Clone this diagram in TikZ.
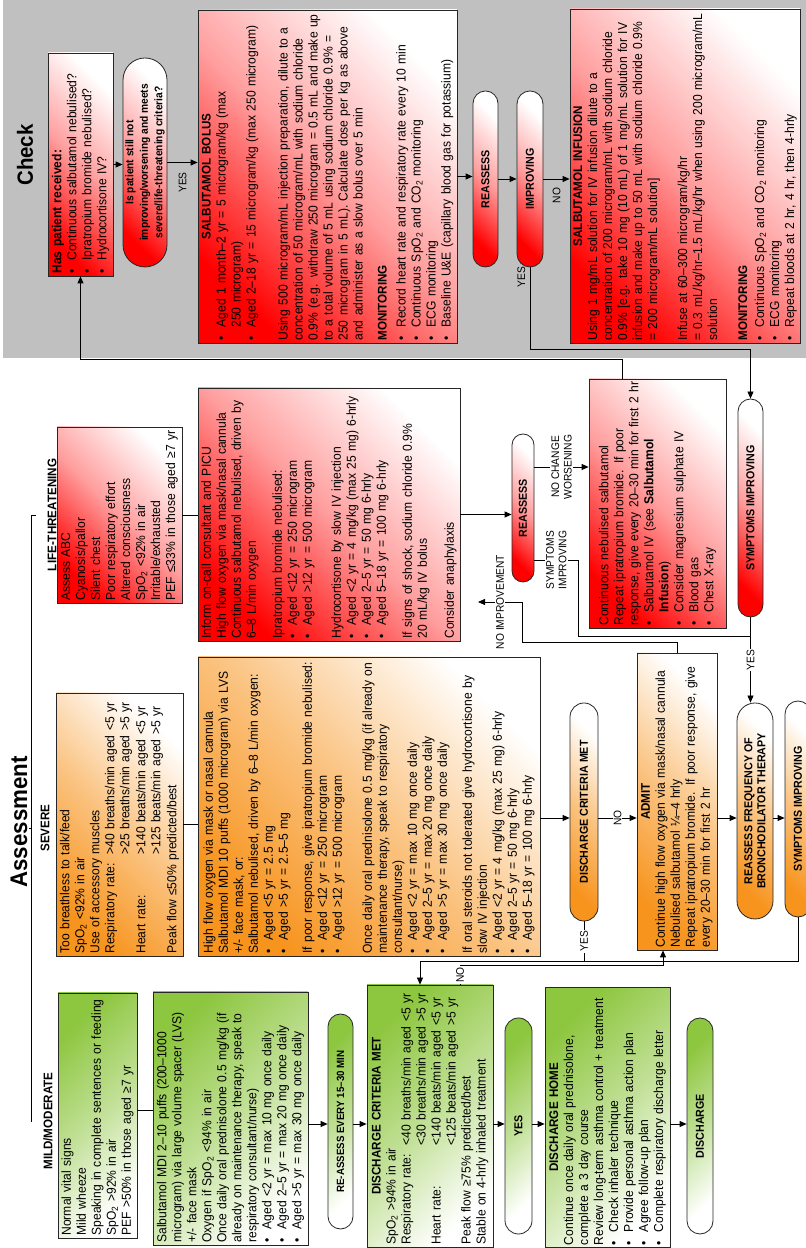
\documentclass[tikz,border=0pt]{standalone}
\usepackage{fontspec}
\setmainfont{Liberation Sans}[FakeStretch=0.93]
\usetikzlibrary{arrows.meta,shapes.misc}

\definecolor{panelgray}{RGB}{192,192,192}
\definecolor{alertred}{RGB}{255,0,0}
\definecolor{warnorange}{RGB}{247,148,30}
\definecolor{okgreen}{RGB}{141,198,63}

\newcommand{\bodyfnt}{\fontsize{13}{15}\selectfont}
\newcommand{\headfnt}{\fontsize{12.5}{15}\selectfont\bfseries}
\newcommand{\ovalfnt}{\fontsize{11.5}{13}\selectfont\bfseries}
\newcommand{\lblfnt}{\fontsize{11}{12.5}\selectfont}
\newcommand{\bu}{\makebox[13pt][l]{\textbullet}}
\newcommand{\cont}{\hspace*{13pt}}
\newcommand{\tb}[1]{\makebox[99pt][l]{#1}}
\newcommand{\sub}[1]{\textsubscript{#1}}
\newcommand{\boxtitle}[1]{\makebox[\hsize][c]{\headfnt #1}}

% the shading is laid on the page after rotation, so its angle is given in page terms
\tikzset{
  redfill/.style={top color=alertred, bottom color=white, middle color=alertred!38, shading angle=135},
  orangefill/.style={top color=warnorange, bottom color=white, middle color=warnorange!55, shading angle=135},
  greenfill/.style={top color=okgreen, bottom color=white, middle color=okgreen!55, shading angle=45},
  box/.style={draw=black!85, line width=0.8pt, rectangle, inner xsep=2.5pt,
    inner ysep=1pt, align=left, font=\bodyfnt},
  redbox/.style={box, redfill},
  orangebox/.style={box, orangefill},
  greenbox/.style={box, greenfill},
  ov/.style={rounded rectangle, draw=black!85, line width=0.8pt, align=center,
    font=\ovalfnt, inner sep=1pt},
  redov/.style={ov, redfill},
  orangeov/.style={ov, orangefill},
  greenov/.style={ov, greenfill},
  conn/.style={line width=0.8pt, black},
  arr/.style={conn, -{Triangle[length=7pt,width=6pt]}},
  lbl/.style={fill=white, inner sep=1pt, font=\lblfnt, align=center},
  grade/.style={font=\fontsize{12.5}{15}\selectfont\bfseries},
}

\begin{document}
\begin{tikzpicture}[x=1pt,y=1pt]
\begin{scope}[rotate=90, transform shape]
\useasboundingbox (0,0) rectangle (1248,-806);
\fill[white] (0,0) rectangle (1248,-806);
% grey panel of the check pathway
\fill[panelgray] (890,-3) rectangle (1248,-806);

% ---------------- titles ----------------
\node[font=\fontsize{22}{24}\selectfont\bfseries] (checkttl) at (1093,-25) {Check};
\node[font=\fontsize{24}{26}\selectfont\bfseries] (assessttl) at (426,-19) {Assessment};

% ---------------- check pathway ----------------
\node[redbox, text width=218pt, minimum height=65pt] (hasrec) at (1083.5,-80.5) {%
\textbf{Has patient received:}\\
\bu Continuous salbutamol nebulised?\\
\bu Ipratropium bromide nebulised?\\
\bu Hydrocortisone IV?};

\node[redov, minimum width=211pt, minimum height=44pt, font=\fontsize{11}{14.5}\selectfont\bfseries] (isoval) at (1085.5,-145) {%
Is patient still not\\improving/worsening and meets\\severe/life-threatening criteria?};

\node[redbox, text width=328pt, minimum height=259pt] (bolus) at (1071.5,-327.5) {%
\boxtitle{SALBUTAMOL BOLUS}\\
\bu Aged 1 month–2 yr = 5 microgram/kg (max\\
\cont 250 microgram)\\
\bu Aged 2–18 yr = 15 microgram/kg (max 250 microgram)\\[17pt]
Using 500 microgram/mL injection preparation, dilute to a\\
concentration of 50 microgram/mL with sodium chloride\\
0.9\% (e.g. withdraw 250 microgram = 0.5 mL and make up\\
to a total volume of 5 mL using sodium chloride 0.9\% =\\
250 microgram in 5 mL). Calculate dose per kg as above\\
and administer as a slow bolus over 5 min\\[9pt]
{\headfnt MONITORING}\\[4pt]
\bu Record heart rate and respiratory rate every 10 min\\
\bu Continuous SpO\sub{2} and CO\sub{2} monitoring\\
\bu ECG monitoring\\
\bu Baseline U\&E (capillary blood gas for potassium)};

\node[redov, minimum width=178pt, minimum height=25pt] (reass1) at (1069,-485.5) {REASSESS};
\node[redov, minimum width=178pt, minimum height=26pt] (improv) at (1069,-530) {IMPROVING};

\node[redbox, text width=329pt, minimum height=230pt] (infus) at (1072,-685) {%
\boxtitle{SALBUTAMOL INFUSION}\\
Using 1 mg/mL solution for IV infusion dilute to a\\
concentration of 200 microgram/mL with sodium chloride\\
0.9\% [e.g. take 10 mg (10 mL) of 1 mg/mL solution for IV\\
infusion and make up to 50 mL with sodium chloride 0.9\%\\
= 200 microgram/mL solution]\\[15pt]
Infuse at 60–300 microgram/kg/hr\\
= 0.3 mL/kg/hr–1.5 mL/kg/hr when using 200 microgram/mL\\
solution\\[15pt]
{\headfnt MONITORING}\\[2pt]
\bu Continuous SpO\sub{2} and CO\sub{2} monitoring\\
\bu ECG monitoring\\
\bu Repeat bloods at 2 hr, 4 hr, then 4-hrly};

% ---------------- life-threatening column ----------------
\node[grade] (lifelbl) at (733,-52) {LIFE-THREATENING};
\node[redbox, text width=171pt, minimum height=125pt] (life) at (733,-119.5) {%
Assess ABC\\
Cyanosis/pallor\\
Silent chest\\
Poor respiratory effort\\
Altered consciousness\\
SpO\sub{2} <92\% in air\\
Irritable/exhausted\\
PEF ≤33\% in those aged ≥7 yr};

\node[redbox, text width=248pt, minimum height=262pt] (inform) at (733.5,-329) {%
Inform on-call consultant and PICU\\
High flow oxygen via mask/nasal cannula\\
Continuous salbutamol nebulised, driven by\\
6–8 L/min oxygen\\[11pt]
Ipratropium bromide nebulised:\\
\bu Aged <12 yr = 250 microgram\\
\bu Aged >12 yr = 500 microgram\\[14pt]
Hydrocortisone by slow IV injection\\
\bu Aged <2 yr = 4 mg/kg (max 25 mg) 6-hrly\\
\bu Aged 2–5 yr = 50 mg 6-hrly\\
\bu Aged 5–18 yr = 100 mg 6-hrly\\[11pt]
If signs of shock, sodium chloride 0.9\%\\
20 mL/kg IV bolus\\[12pt]
Consider anaphylaxis};

\node[redov, minimum width=150pt, minimum height=22pt] (reass2) at (740,-523) {REASSESS};

\node[redbox, text width=244pt, minimum height=137pt] (contin) at (744.5,-657.5) {%
Continuous nebulised salbutamol\\
Repeat ipratropium bromide. If poor\\
response, give every 20–30 min for first 2 hr\\
\bu Salbutamol IV (see \textbf{Salbutamol}\\
\cont\textbf{Infusion})\\
\bu Consider magnesium sulphate IV\\
\bu Blood gas\\
\bu Chest X-ray};

\node[redov, minimum width=220pt, minimum height=25pt] (sympR) at (740,-750.5) {SYMPTOMS IMPROVING};

% ---------------- severe column ----------------
\node[grade] (sevlbl) at (420,-45) {SEVERE};
\node[orangebox, text width=258pt, minimum height=127pt] (severe) at (423.5,-119.5) {%
Too breathless to talk/feed\\
SpO\sub{2} <92\% in air\\
Use of accessory muscles\\
\tb{Respiratory rate:}>40 breaths/min aged <5 yr\\
\tb{}>25 breaths/min aged >5 yr\\[1pt]
\tb{Heart rate:}>140 beats/min aged <5 yr\\
\tb{}>125 beats/min aged >5 yr\\[1pt]
Peak flow ≤50\% predicted/best};

\node[orangebox, text width=294pt, minimum height=342pt] (highflow) at (441.5,-369) {%
High flow oxygen via mask or nasal cannula\\
Salbutamol MDI 10 puffs (1000 microgram) via LVS\\
+/- face mask, or:\\
Salbutamol nebulised, driven by 6–8 L/min oxygen:\\
\bu Aged <5 yr = 2.5 mg\\
\bu Aged >5 yr = 2.5–5 mg\\[9pt]
If poor response, give ipratropium bromide nebulised:\\
\bu Aged <12 yr = 250 microgram\\
\bu Aged >12 yr = 500 microgram\\[15pt]
Once daily oral prednisolone 0.5 mg/kg (if already on\\
maintenance therapy, speak to respiratory\\
consultant/nurse)\\
\bu Aged <2 yr = max 10 mg once daily\\
\bu Aged 2–5 yr = max 20 mg once daily\\
\bu Aged >5 yr = max 30 mg once daily\\[10pt]
If oral steroids not tolerated give hydrocortisone by\\
slow IV injection\\
\bu Aged <2 yr = 4 mg/kg (max 25 mg) 6-hrly\\
\bu Aged 2–5 yr = 50 mg 6-hrly\\
\bu Aged 5–18 yr = 100 mg 6-hrly};

\node[orangeov, minimum width=220pt, minimum height=28pt] (dcm) at (436,-584) {DISCHARGE CRITERIA MET};

\node[orangebox, text width=292pt, minimum height=80pt] (admit) at (446.5,-677) {%
\boxtitle{ADMIT}\\
Continue high flow oxygen via mask/nasal cannula\\
Nebulised salbutamol ¼–4 hrly\\
Repeat ipratropium bromide. If poor response, give\\
every 20–30 min for first 2 hr};

\node[orangeov, minimum width=218pt, minimum height=36pt, font=\fontsize{11.5}{13}\selectfont\bfseries] (reassfreq) at (437,-755) {REASSESS FREQUENCY OF\\BRONCHODILATOR THERAPY};
\node[orangeov, minimum width=218pt, minimum height=26pt] (sympO) at (439,-798) {SYMPTOMS IMPROVING};

% ---------------- mild/moderate column ----------------
\node[grade] (mildlbl) at (127,-48) {MILD/MODERATE};
\node[greenbox, text width=240pt, minimum height=79pt] (mild) at (132.5,-97.5) {%
Normal vital signs\\
Mild wheeze\\
Speaking in complete sentences or feeding\\
SpO\sub{2} >92\% in air\\
PEF >50\% in those aged ≥7 yr};

\node[greenbox, text width=248pt, minimum height=155pt] (mdi) at (129.5,-230.5) {%
Salbutamol MDI 2–10 puffs (200–1000\\
microgram) via large volume spacer (LVS)\\
+/- face mask\\
Oxygen if SpO\sub{2} <94\% in air\\
Once daily oral prednisolone 0.5 mg/kg (if\\
already on maintenance therapy, speak to\\
respiratory consultant/nurse)\\
\bu Aged <2 yr = max 10 mg once daily\\
\bu Aged 2–5 yr = max 20 mg once daily\\
\bu Aged >5 yr = max 30 mg once daily};

\node[greenov, minimum width=217pt, minimum height=25pt, font=\fontsize{10.5}{12}\selectfont\bfseries] (reass3) at (126.5,-340.5) {RE-ASSESS EVERY 15–30 MIN};

\node[greenbox, text width=257pt, minimum height=126pt] (dischcrit) at (132,-430) {%
\boxtitle{DISCHARGE CRITERIA MET}\\
SpO\sub{2} >94\% in air\\
\tb{Respiratory rate:}<40 breaths/min aged <5 yr\\
\tb{}<30 breaths/min aged >5 yr\\
\tb{Heart rate:}<140 beats/min aged <5 yr\\
\tb{}<125 beats/min aged >5 yr\\
Peak flow ≥75\% predicted/best\\
Stable on 4-hrly inhaled treatment};

\node[greenov, minimum width=218pt, minimum height=27pt] (yesov) at (122,-518.5) {YES};

\node[greenbox, text width=255pt, minimum height=125pt] (dhome) at (130.5,-607.5) {%
\boxtitle{DISCHARGE HOME}\\
Continue once daily oral prednisolone,\\
complete a 3 day course\\
Review long-term asthma control + treatment\\
\bu Check inhaler technique\\
\bu Provide personal asthma action plan\\
\bu Agree follow-up plan\\
\bu Complete respiratory discharge letter};

\node[greenov, minimum width=218pt, minimum height=26pt] (dischov) at (122,-700) {DISCHARGE};

% ---------------- helper points ----------------
\coordinate (colm) at (430,0);
\coordinate (colg) at (124,0);
\coordinate (treey) at (0,-31);
\coordinate (noimp) at (646,-478);

% ---------------- assessment tree ----------------
\draw[conn] ([yshift=8pt]mildlbl.north) -- (mildlbl.north |- treey)
  -- (lifelbl.north |- treey) -- ([yshift=8pt]lifelbl.north);
\draw[conn] ([yshift=8pt]sevlbl.north) -- (sevlbl.north |- treey);

% ---------------- connectors: check pathway ----------------
\draw[arr] ([yshift=35.5pt]contin.east) -- ++(19,0) |- (hasrec.west);
\draw[arr] (hasrec.south) -- (hasrec.south |- isoval.north);
\draw[arr] (isoval.south) -- node[left=6pt, font=\lblfnt]{YES} (isoval.south |- bolus.north);
\draw[arr] (bolus.south) -- (bolus.south |- reass1.north);
\draw[arr] (reass1.south) -- (reass1.south |- improv.north);
\draw[arr] (improv.south) -- node[left=5pt, font=\lblfnt]{NO} (improv.south |- infus.north);
\draw[arr] (improv.west) -- node[pos=0.12, above=1pt, font=\lblfnt]{YES} ++(-82,0) |- (sympR.east);

% ---------------- connectors: life-threatening ----------------
\draw[conn] (life.south) -- (life.south |- inform.north);
\draw[arr] (inform.south) -- (inform.south |- reass2.north);
\draw[arr] ([xshift=41pt]reass2.south) -- node[lbl]{NO CHANGE\\WORSENING} ([xshift=41pt]reass2.south |- contin.north);
\draw[conn] ([xshift=-52pt]reass2.south) -- node[lbl]{SYMPTOMS\\IMPROVING} ++(0,-44) -| ([xshift=-19pt]sympR.west);
\draw[arr] (sympR.west) -- node[lbl]{YES} (sympR.west -| reassfreq.east);
\draw[arr] (admit.east) -- ++(10,0) |- ([yshift=-44pt]noimp) -- node[lbl]{NO IMPROVEMENT} (noimp);

% ---------------- connectors: severe ----------------
\draw[conn] (severe.south) -- (severe.south |- highflow.north);
\draw[arr] (highflow.south -| colm) -- (colm |- dcm.north);
\draw[arr] (dcm.south -| colm) -- node[lbl]{NO} (colm |- admit.north);
\draw[conn] (dcm.west) -- node[lbl]{YES} ++(-40,0);
\draw[arr] (sympO.west) -- ++(-44,0) |- ([yshift=10pt]dischcrit.east);
\draw[arr] ([yshift=-30pt]dischcrit.east) -- node[lbl]{NO} ++(19,0) |- ([yshift=14pt]admit.west);
\draw[arr] (admit.south -| colm) -- (colm |- reassfreq.north);
\draw[arr] (reassfreq.south -| colm) -- (colm |- sympO.north);

% ---------------- connectors: mild/moderate ----------------
\draw[conn] ([xshift=5.5pt]mild.south) -- ([xshift=5.5pt]mild.south |- mdi.north);
\draw[arr] (mdi.south -| colg) -- (colg |- reass3.north);
\draw[arr] (reass3.south -| colg) -- (colg |- dischcrit.north);
\draw[arr] (dischcrit.south -| colg) -- (colg |- yesov.north);
\draw[arr] (yesov.south -| colg) -- (colg |- dhome.north);
\draw[arr] (dhome.south -| colg) -- (colg |- dischov.north);
\end{scope}
\end{tikzpicture}
\end{document}
